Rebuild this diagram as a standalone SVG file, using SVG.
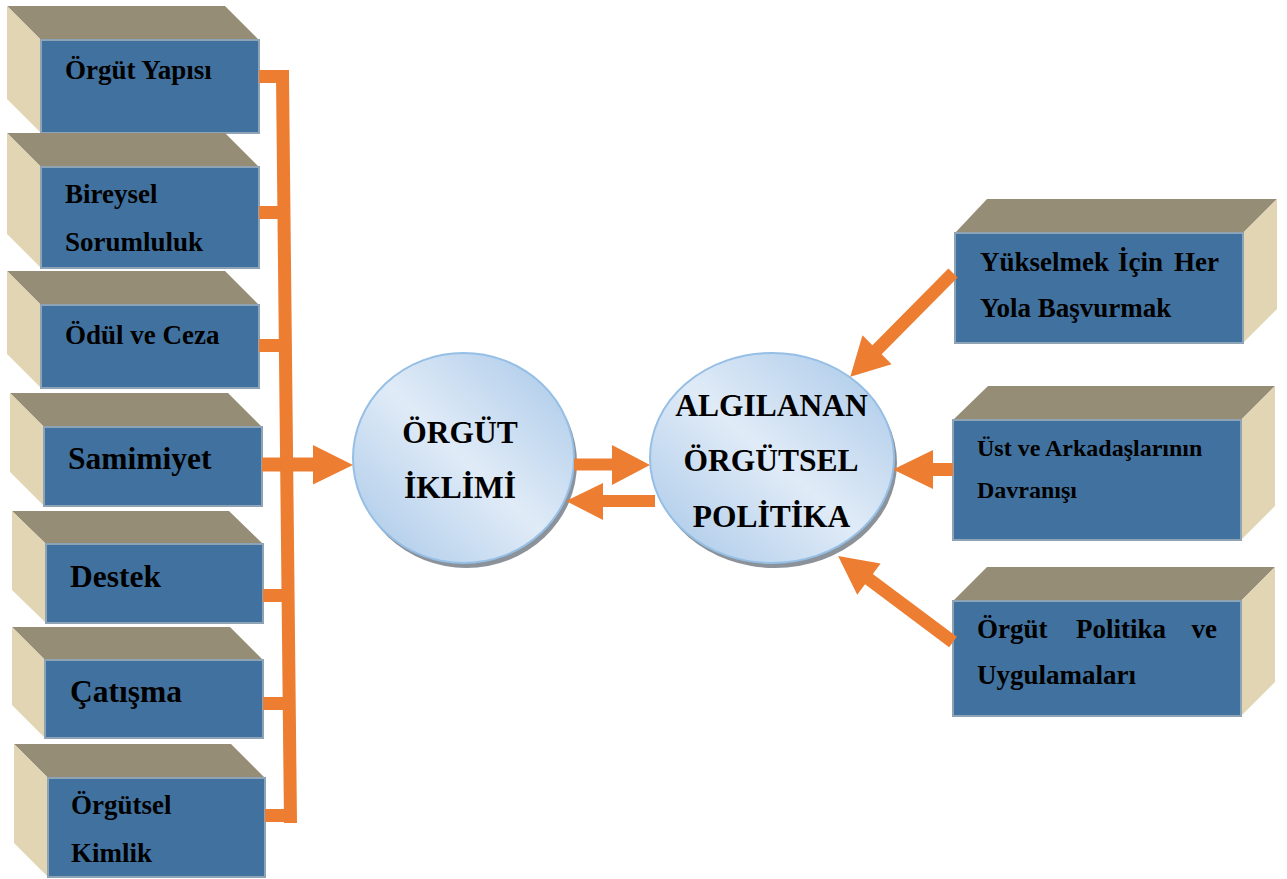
<svg xmlns="http://www.w3.org/2000/svg" width="1287" height="879" viewBox="0 0 1287 879">
  <style>
    .front { fill: #41729f; stroke: #8ea3b5; stroke-width: 2; }
    .top { fill: #968d76; }
    .side { fill: #e1d5b3; }
    .lbl { font-family: "Liberation Serif", "Times New Roman", serif; font-weight: bold; fill: #000; font-size: 27px; }
    .big { font-size: 31.5px; }
    .mid { font-size: 24px; }
    .ctr { text-anchor: middle; }
    .end { text-anchor: end; }
    .orange { fill: #ed7d31; }
    .bubble { fill: url(#bubbleFill); stroke: #96bfe6; stroke-width: 2; }
    .shadow { fill: #8b9299; }
  </style>
  <defs>
    <linearGradient id="bubbleFill" x1="0" y1="1" x2="1" y2="0">
      <stop offset="0" stop-color="#a7c7e8"/>
      <stop offset="0.5" stop-color="#e0ebf7"/>
      <stop offset="1" stop-color="#a7c7e8"/>
    </linearGradient>
  </defs>

  <!-- left column: climate dimensions -->
  <g id="orgut-yapisi">
    <polygon class="top" points="7,6 225,6 259,40 41,40"/>
    <polygon class="side" points="7,6 41,40 41,133 7,99"/>
    <rect class="front" x="41" y="40" width="218" height="93"/>
    <text class="lbl" x="65" y="79">Örgüt Yapısı</text>
  </g>
  <g id="bireysel-sorumluluk">
    <polygon class="top" points="7,133 225,133 259,167 41,167"/>
    <polygon class="side" points="7,133 41,167 41,268 7,234"/>
    <rect class="front" x="41" y="167" width="218" height="101"/>
    <text class="lbl" x="65" y="203">Bireysel</text>
    <text class="lbl" x="65" y="251">Sorumluluk</text>
  </g>
  <g id="odul-ve-ceza">
    <polygon class="top" points="7,271 225,271 259,305 41,305"/>
    <polygon class="side" points="7,271 41,305 41,388 7,354"/>
    <rect class="front" x="41" y="305" width="218" height="83"/>
    <text class="lbl" x="65" y="344">Ödül ve Ceza</text>
  </g>
  <g id="samimiyet">
    <polygon class="top" points="10,393 228,393 262,427 44,427"/>
    <polygon class="side" points="10,393 44,427 44,506 10,472"/>
    <rect class="front" x="44" y="427" width="218" height="79"/>
    <text class="lbl big" x="68" y="469">Samimiyet</text>
  </g>
  <g id="destek">
    <polygon class="top" points="12,511 229,511 263,544 46,544"/>
    <polygon class="side" points="12,511 46,544 46,623 12,590"/>
    <rect class="front" x="46" y="544" width="217" height="79"/>
    <text class="lbl big" x="70" y="587">Destek</text>
  </g>
  <g id="catisma">
    <polygon class="top" points="12,627 230,627 263,660 45,660"/>
    <polygon class="side" points="12,627 45,660 45,738 12,705"/>
    <rect class="front" x="45" y="660" width="218" height="78"/>
    <text class="lbl big" x="70" y="702">Çatışma</text>
  </g>
  <g id="orgutsel-kimlik">
    <polygon class="top" points="14,744 231,744 265,778 48,778"/>
    <polygon class="side" points="14,744 48,778 48,877 14,843"/>
    <rect class="front" x="48" y="778" width="217" height="99"/>
    <text class="lbl" x="71" y="814">Örgütsel</text>
    <text class="lbl" x="71" y="862">Kimlik</text>
  </g>

  <!-- central bubbles -->
  <g id="orgut-iklimi">
    <ellipse class="shadow" cx="466.5" cy="463" rx="110.5" ry="105"/>
    <ellipse class="bubble" cx="463.5" cy="458" rx="110.5" ry="105"/>
    <text class="lbl big ctr" x="460" y="443">ÖRGÜT</text>
    <text class="lbl big ctr" x="460" y="498">İKLİMİ</text>
  </g>
  <g id="algilanan-orgutsel-politika">
    <ellipse class="shadow" cx="775" cy="463" rx="122" ry="105"/>
    <ellipse class="bubble" cx="772" cy="458" rx="122" ry="105"/>
    <text class="lbl big ctr" x="771.5" y="416">ALGILANAN</text>
    <text class="lbl big ctr" x="771" y="471">ÖRGÜTSEL</text>
    <text class="lbl big ctr" x="771.5" y="527">POLİTİKA</text>
  </g>

  <!-- right column: political behaviour sources -->
  <g id="yukselmek">
    <polygon class="top" points="987,199 1277,199 1243,233 955,233"/>
    <polygon class="side" points="1243,233 1277,199 1277,309 1243,343"/>
    <rect class="front" x="955" y="233" width="288" height="110"/>
    <text class="lbl" x="980" y="271">Yükselmek</text>
    <text class="lbl" x="1118" y="271">İçin</text>
    <text class="lbl end" x="1219" y="271">Her</text>
    <text class="lbl" x="980" y="317">Yola Başvurmak</text>
  </g>
  <g id="ust-ve-arkadaslar">
    <polygon class="top" points="988,386 1275,386 1241,420 953,420"/>
    <polygon class="side" points="1241,420 1275,386 1275,506 1241,540"/>
    <rect class="front" x="953" y="420" width="288" height="120"/>
    <text class="lbl mid" x="977" y="456">Üst ve Arkadaşlarının</text>
    <text class="lbl mid" x="977" y="498">Davranışı</text>
  </g>
  <g id="orgut-politika">
    <polygon class="top" points="987,567 1275,567 1241,601 953,601"/>
    <polygon class="side" points="1241,601 1275,567 1275,682 1241,716"/>
    <rect class="front" x="953" y="601" width="288" height="115"/>
    <text class="lbl" x="977" y="638">Örgüt</text>
    <text class="lbl" x="1076" y="638">Politika</text>
    <text class="lbl end" x="1217" y="638">ve</text>
    <text class="lbl" x="977" y="684">Uygulamaları</text>
  </g>

  <!-- connectors -->
  <g id="connectors" class="orange">
    <!-- collecting bus on the left -->
    <rect x="259" y="70" width="30" height="13"/>
    <polygon points="276,77 289,77 297,823 284,823"/>
    <rect x="259" y="206" width="26" height="13"/>
    <rect x="259" y="339" width="28" height="13"/>
    <rect x="263" y="589" width="26" height="13"/>
    <rect x="263" y="697" width="27" height="13"/>
    <rect x="265" y="809" width="26" height="13"/>
    <!-- bus into the climate bubble -->
    <polygon points="262,457.5 313,457.5 313,445 353,465 313,484.5 313,471.5 262,471.5"/>
    <!-- between the two bubbles -->
    <polygon points="574,458.5 612,458.5 612,445 650,465 612,485 612,470.5 574,470.5"/>
    <polygon points="655,495 603,495 603,483 566,501 603,520 603,507 655,507"/>
    <!-- sources into perceived politics -->
    <polygon transform="translate(953,273) rotate(134.7)" points="0,-6.5 108,-6.5 108,-20.5 146,0 108,20.5 108,6.5 0,6.5"/>
    <polygon points="953,463 933,463 933,450 893,469.5 933,489 933,476 953,476"/>
    <polygon transform="translate(953,642) rotate(-143.2)" points="0,-6.5 105,-6.5 105,-19.5 143.5,0 105,19.5 105,6.5 0,6.5"/>
  </g>
</svg>
